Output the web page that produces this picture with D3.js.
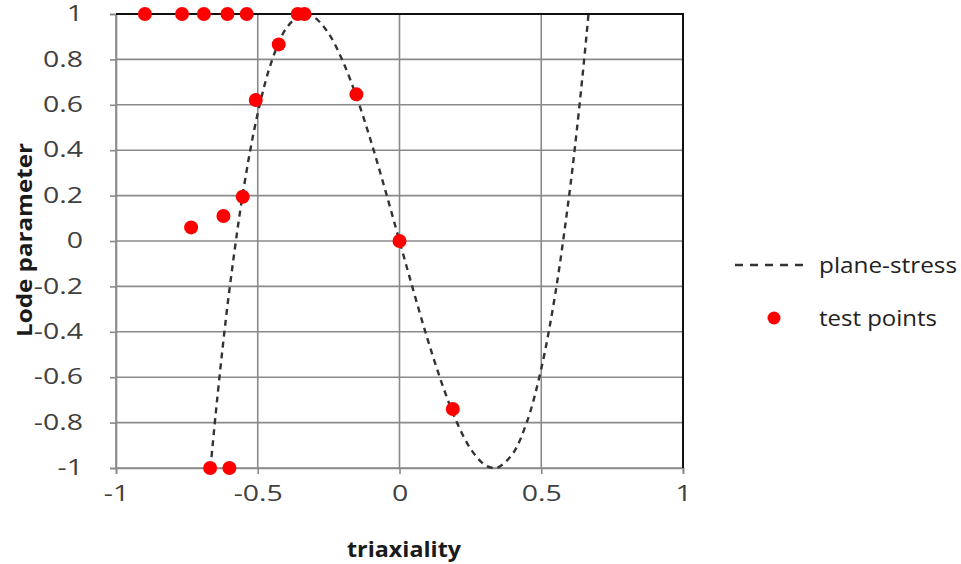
<!DOCTYPE html>
<html><head><meta charset="utf-8">
<script src="https://cdn.jsdelivr.net/npm/d3@7"></script>
<style>body{margin:0;background:#fff;} svg{display:block;}</style>
</head><body>
<svg id="c" width="961" height="564"></svg>
<script>
// Plane-stress curve
const curveEta = [-0.6667,-0.66,-0.65,-0.625,-0.6,-0.55,-0.5,-0.45,-0.4,-0.35,-0.3333,-0.3,-0.25,-0.2,-0.15,-0.1,-0.05,0,0.05,0.1,0.15,0.2,0.25,0.3,0.3333,0.35,0.4,0.45,0.5,0.55,0.6,0.625,0.65,0.66,0.6667];
const curveLode = [-1,-0.911,-0.782,-0.483,-0.216,0.229,0.5625,0.795,0.936,0.996,1,0.9855,0.914,0.792,0.629,0.4365,0.223,0,-0.223,-0.4365,-0.629,-0.792,-0.914,-0.9855,-1,-0.996,-0.936,-0.795,-0.5625,-0.229,0.216,0.483,0.782,0.911,1];
// Test points
const testEta = [-0.898,-0.767,-0.690,-0.607,-0.539,-0.359,-0.335,-0.426,-0.507,-0.553,-0.621,-0.735,-0.152,0,0.188,-0.668,-0.600];
const testLode = [1,1,1,1,1,1,1,0.866,0.621,0.195,0.110,0.060,0.646,0,-0.740,-1,-1];
const xTicks = [-1,-0.5,0,0.5,1];
const yTicks = [-1,-0.8,-0.6,-0.4,-0.2,0,0.2,0.4,0.6,0.8,1];
const xTitle = "triaxiality";
const yTitle = "Lode parameter";
const legendLabels = ["plane-stress","test points"];

const svg = d3.select("#c");
const L = 116, R = 683, T = 14, B = 468;
const x = d3.scaleLinear().domain([-1,1]).range([L,R]);
const y = d3.scaleLinear().domain([-1,1]).range([B,T]);
const font = "'Open Sans', sans-serif";
const txt = "#404040";
const grid = "#8a8a8a";

// gridlines
svg.append("g").selectAll("line").data(yTicks).join("line")
  .attr("x1",L).attr("x2",R).attr("y1",d=>y(d)).attr("y2",d=>y(d))
  .attr("stroke",grid).attr("stroke-width",1.6);
svg.append("g").selectAll("line").data(xTicks).join("line")
  .attr("y1",T).attr("y2",B).attr("x1",d=>x(d)).attr("x2",d=>x(d))
  .attr("stroke",grid).attr("stroke-width",1.6);

const fmt = d => String(d);
// axes
const xAxis = svg.append("g").attr("transform",`translate(0,${B})`)
  .call(d3.axisBottom(x).tickValues(xTicks).tickSize(6).tickPadding(12).tickFormat(fmt));
const yAxis = svg.append("g").attr("transform",`translate(${L},0)`)
  .call(d3.axisLeft(y).tickValues(yTicks).tickSize(6).tickPadding(27).tickFormat(fmt));
[xAxis,yAxis].forEach(a=>{
  a.select(".domain").attr("stroke",grid).attr("stroke-width",1.6);
  a.selectAll(".tick line").attr("stroke",grid).attr("stroke-width",1.6);
  a.selectAll("text").attr("font-family",font).attr("font-size",21).attr("fill",txt);
});
xAxis.selectAll("text").attr("dy","0.71em");
// stretch tick labels horizontally to match reference proportions
const ref = yAxis.selectAll(".tick text").filter(d=>d===0.8).node();
const k = 40 / ref.getComputedTextLength();
[xAxis,yAxis].forEach(a=>a.selectAll("text").each(function(){
  const w = this.getComputedTextLength();
  d3.select(this).attr("textLength", w*k).attr("lengthAdjust","spacingAndGlyphs");
}));
// top/right border
svg.append("path").attr("d",`M${L},${T}H${R}V${B}`).attr("fill","none").attr("stroke","#111").attr("stroke-width",2);

// curve
const line = d3.line().x(d=>x(d[0])).y(d=>y(d[1])).curve(d3.curveCatmullRom);
svg.append("path").datum(curveEta.map((e,i)=>[e,curveLode[i]]))
  .attr("d",line).attr("fill","none").attr("stroke","#333").attr("stroke-width",2.4)
  .attr("stroke-dasharray","6,5");

// points
svg.append("g").selectAll("circle").data(testEta.map((e,i)=>[e,testLode[i]])).join("circle")
  .attr("cx",d=>x(d[0])).attr("cy",d=>y(d[1])).attr("r",7).attr("fill","#ff0000");

// titles
svg.append("text").attr("x",404).attr("y",557).attr("text-anchor","middle")
  .attr("font-family",font).attr("font-size",22).attr("font-weight","bold").attr("fill","#1a1a1a")
  .attr("textLength",114).attr("lengthAdjust","spacingAndGlyphs").text(xTitle);
svg.append("text").attr("transform",`translate(32,240) rotate(-90)`).attr("text-anchor","middle")
  .attr("font-family",font).attr("font-size",22).attr("font-weight","bold").attr("fill","#1a1a1a")
  .attr("textLength",194).attr("lengthAdjust","spacingAndGlyphs").text(yTitle);

// legend
svg.append("line").attr("x1",735).attr("x2",805).attr("y1",265).attr("y2",265)
  .attr("stroke","#333").attr("stroke-width",2.4).attr("stroke-dasharray","8,7");
svg.append("text").attr("x",819).attr("y",273).attr("font-family",font).attr("font-size",22).attr("fill","#222")
  .attr("textLength",138).attr("lengthAdjust","spacingAndGlyphs").text(legendLabels[0]);
svg.append("circle").attr("cx",774).attr("cy",318).attr("r",6.5).attr("fill","#ff0000");
svg.append("text").attr("x",819).attr("y",326).attr("font-family",font).attr("font-size",22).attr("fill","#222")
  .attr("textLength",118).attr("lengthAdjust","spacingAndGlyphs").text(legendLabels[1]);
</script>
</body></html>
